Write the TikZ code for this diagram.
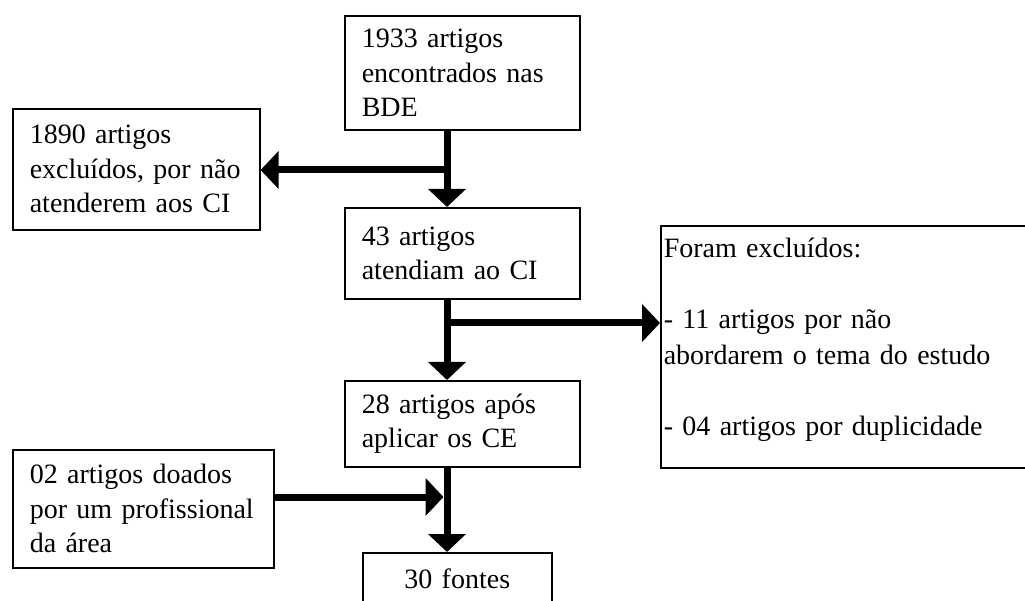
\documentclass[tikz,border=0pt]{standalone}
\usepackage{fontspec}
\setmainfont{Liberation Serif}
\usetikzlibrary{arrows.meta,calc}

\begin{document}
\begin{tikzpicture}[x=1pt, y=-1pt,
  box/.style={draw=black, line width=1.6pt, fill=white, anchor=north west,
    inner ysep=0pt, align=left,
    font=\fontsize{28}{34.5}\selectfont,
    execute at begin node={\hyphenpenalty=10000\relax}},
  flow/.style={line width=7pt, -{Triangle[length=18pt,width=37pt]}}]
  \clip (0,0) rectangle (1025,601);
  \fill[white] (0,0) rectangle (1025,601);

  % main column of the flow
  \coordinate (spine) at (447,0);

  \node[box, inner xsep=17pt, minimum width=235pt, minimum height=114pt, text width=201pt]
    (found) at (344,15) {1933 artigos\\encontrados nas\\BDE};
  \node[box, inner xsep=17pt, minimum width=235pt, minimum height=91pt, text width=201pt]
    (meetci) at (344,207) {43 artigos\\atendiam ao CI};
  \node[box, inner xsep=17pt, minimum width=235pt, minimum height=86pt, text width=201pt]
    (afterce) at (344,380) {28 artigos após\\aplicar os CE};
  \node[box, align=center, inner xsep=0pt, minimum width=189pt, minimum height=52pt, text width=175pt]
    (final) at (362,552) {30 fontes};

  % side boxes
  \node[box, inner xsep=17pt, minimum width=247pt, minimum height=121pt, text width=213pt]
    (exclci) at (12,108) {1890 artigos\\excluídos, por não\\atenderem aos CI};
  \node[box, inner xsep=17pt, minimum width=261pt, minimum height=118pt, text width=227pt]
    (donated) at (12,449) {02 artigos doados\\por um profissional\\da área};
  \node[box, inner xsep=3pt, minimum width=375pt, minimum height=242pt, text width=369pt,
    font=\fontsize{28}{35.5}\selectfont]
    (exclce) at (660,225) {Foram excluídos:\\\mbox{}\\- 11 artigos por não\\abordarem o tema do estudo\\\mbox{}\\- 04 artigos por duplicidade\rule[-20pt]{0pt}{0pt}};

  % junction points on the main column
  \coordinate (jleft) at (447,170);
  \coordinate (jright) at (447,323);
  \coordinate (jin) at (443.5,497);

  % connectors
  \draw[flow] (spine |- found.south) -- (spine |- meetci.north);
  \draw[flow] (jleft) -- (jleft -| exclci.east);
  \draw[flow] (spine |- meetci.south) -- (spine |- afterce.north);
  \draw[flow] (jright) -- (jright -| exclce.west);
  \draw[flow] (spine |- afterce.south) -- (spine |- final.north);
  \draw[flow] (jin -| donated.east) -- (jin);
\end{tikzpicture}
\end{document}
